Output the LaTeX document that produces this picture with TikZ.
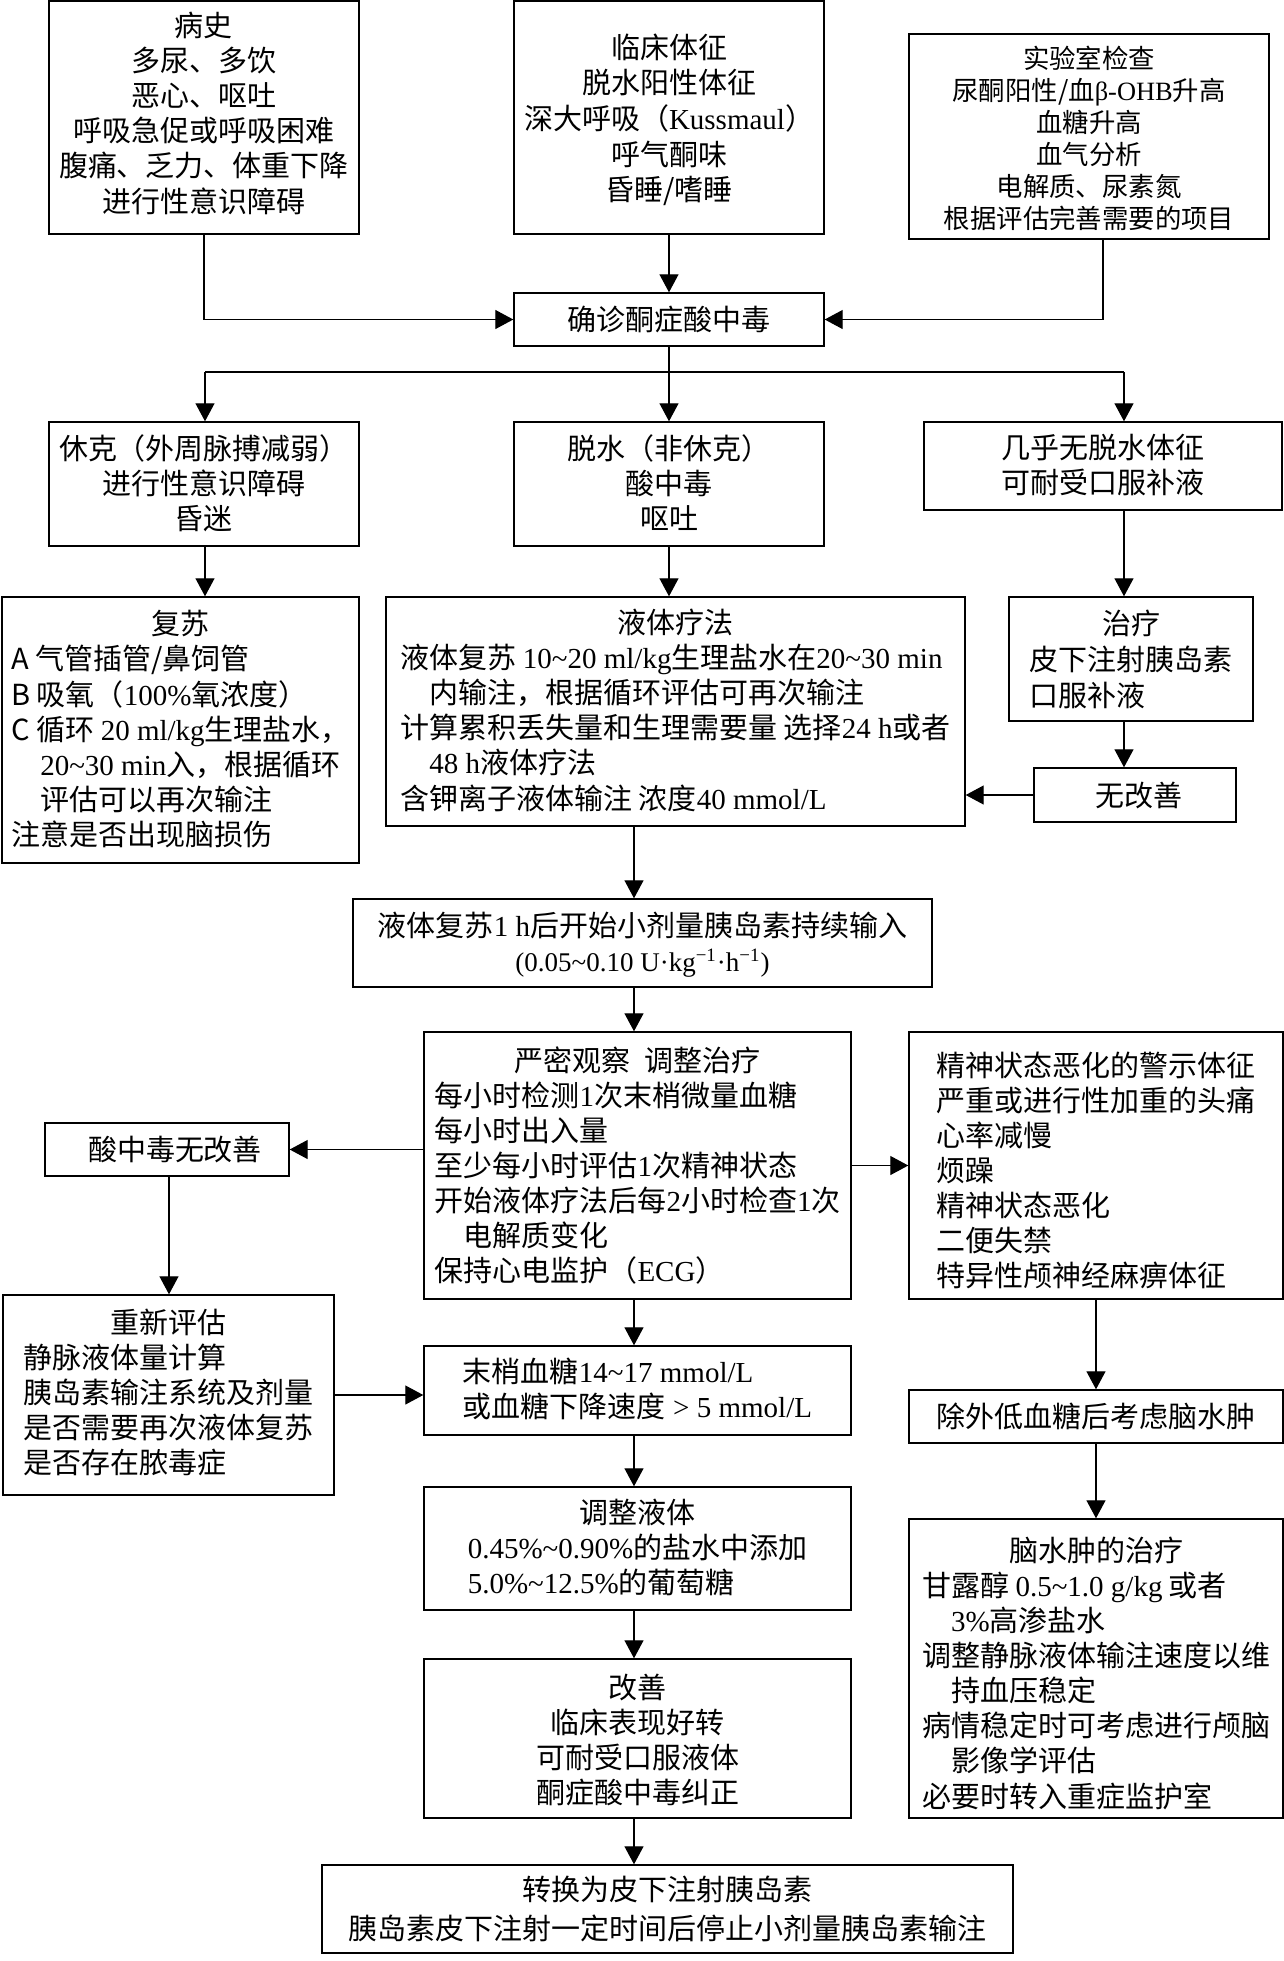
\documentclass[tikz,border=0pt]{standalone}
\usepackage{fontspec}
\setmainfont{Noto Sans CJK SC}
\newfontfamily\enfont{Liberation Serif}
\usetikzlibrary{arrows.meta,calc}
\newcommand\EN[1]{{\enfont #1}}
\newcommand\tld{\textasciitilde}
\newcommand\tbc[2][0pt]{\raisebox{-#1}[\height][\depth]{\begin{tabular}{@{}c@{}}#2\end{tabular}}}
\newcommand\tbl[2][0pt]{\raisebox{-#1}[\height][\depth]{\begin{tabular}{@{}l@{}}#2\end{tabular}}}
\newcommand\hd[1]{\multicolumn{1}{@{}c@{}}{#1}}
\newcommand\ind{\hspace*{1em}}
\begin{document}
\begin{tikzpicture}[x=0.5pt,y=-0.5pt,
  font=\fontsize{14.5pt}{17.5pt}\selectfont,
  box/.style={draw, line width=0.7pt, inner sep=0pt, rectangle, align=center},
  arr/.style={line width=0.6pt, -{Triangle[length=9pt,width=9.5pt]}},
  ln/.style={line width=0.6pt}]
\path[use as bounding box, fill=white] (0,0) rectangle (1284,1961);

% row 1
\node[box, minimum width=155pt, minimum height=116.5pt] (hist) at (204,117.5)
 {\tbc{病史\\多尿、多饮\\恶心、呕吐\\呼吸急促或呼吸困难\\腹痛、乏力、体重下降\\进行性意识障碍}};
\node[box, minimum width=155pt, minimum height=116.5pt] (clin) at (669,117.5)
 {\tbc[2.5pt]{临床体征\\[0.3pt]脱水阳性体征\\[0.3pt]深大呼吸（\EN{Kussmaul}）\\[0.3pt]呼气酮味\\[0.3pt]昏睡/嗜睡}};
\node[box, line width=1.3pt, minimum width=180pt, minimum height=102.5pt,
  font=\fontsize{13.2pt}{16pt}\selectfont] (lab) at (1089,136.5)
 {\tbc[3pt]{实验室检查\\尿酮阳性/血\EN{β-OHB}升高\\血糖升高\\血气分析\\电解质、尿素氮\\根据评估完善需要的项目}};
\node[box, minimum width=155pt, minimum height=26.5pt] (diag) at (669,319.5) {确诊酮症酸中毒};

% row 2
\node[box, minimum width=155pt, minimum height=62pt] (shock) at (204,484)
 {\tbc[1.5pt]{休克（外周脉搏减弱）\\进行性意识障碍\\昏迷}};
\node[box, minimum width=155pt, minimum height=62pt] (dehy) at (669,484)
 {\tbc[1.5pt]{脱水（非休克）\\酸中毒\\呕吐}};
\node[box, minimum width=179pt, minimum height=44pt] (nodehy) at (1103,466)
 {\tbc[1.5pt]{几乎无脱水体征\\可耐受口服补液}};

% row 3
\node[box, minimum width=178.5pt, minimum height=133pt] (resus) at (180.5,730)
 {\tbl[1.5pt]{\hd{复苏}\\A 气管插管/鼻饲管\\B 吸氧（\EN{100\%}氧浓度）\\C 循环 \EN{20 ml/kg}生理盐水，\\\ind\EN{20\tld 30 min}入，根据循环\\\ind 评估可以再次输注\\注意是否出现脑损伤}};
\node[box, minimum width=289.5pt, minimum height=114.5pt] (fluid) at (675.5,711.5)
 {\tbl[1.5pt]{\hd{液体疗法}\\液体复苏 \EN{10\tld 20 ml/kg}生理盐水在\EN{20\tld 30 min}\\\ind 内输注，根据循环评估可再次输注\\计算累积丢失量和生理需要量 选择\EN{24 h}或者\\\ind\EN{48 h}液体疗法\\含钾离子液体输注 浓度\EN{40 mmol/L}}};
\node[box, minimum width=122pt, minimum height=62pt] (treat) at (1131,659)
 {\tbl[2pt]{\hd{治疗}\\[0.5pt]皮下注射胰岛素\\[0.5pt]口服补液}};
\node[box, minimum width=101pt, minimum height=27pt] (noimp) at (1135,795) {\hspace*{4pt}无改善};

% insulin
\node[box, minimum width=289.5pt, minimum height=44pt] (insulin) at (642.5,943)
 {\tbc[2pt]{液体复苏\EN{1 h}后开始小剂量胰岛素持续输入\\{\fontsize{13.5pt}{17.5pt}\selectfont\EN{(0.05\tld 0.10 U·kg\textsuperscript{−1}·h\textsuperscript{−1})}}}};

% observation row
\node[box, minimum width=213.5pt, minimum height=133.5pt] (obs) at (637.5,1165.5)
 {\tbl[1.9pt]{\hd{严密观察\hspace{0.5em}调整治疗}\\每小时检测\EN{1}次末梢微量血糖\\每小时出入量\\至少每小时评估\EN{1}次精神状态\\开始液体疗法后每\EN{2}小时检查\EN{1}次\\\ind 电解质变化\\保持心电监护（\EN{ECG}）}};
\node[box, minimum width=122pt, minimum height=26.5pt] (acid) at (167,1149.5) {\hspace*{8pt}酸中毒无改善};
\node[box, minimum width=165.5pt, minimum height=100pt] (reeval) at (168.5,1395)
 {\tbl[0.5pt]{\hd{重新评估}\\静脉液体量计算\\胰岛素输注系统及剂量\\是否需要再次液体复苏\\是否存在脓毒症}};
\node[box, minimum width=187pt, minimum height=133.5pt] (warn) at (1096,1165.5)
 {\tbl[4.4pt]{精神状态恶化的警示体征\\严重或进行性加重的头痛\\心率减慢\\烦躁\\精神状态恶化\\二便失禁\\特异性颅神经麻痹体征}};

\node[box, minimum width=213.5pt, minimum height=44.5pt] (glu) at (637.5,1390.5)
 {\tbl[1pt]{末梢血糖\EN{14\tld 17 mmol/L}\\或血糖下降速度\EN{ > 5 mmol/L}}};
\node[box, minimum width=187pt, minimum height=26.5pt] (excl) at (1096,1416.5) {除外低血糖后考虑脑水肿};

\node[box, minimum width=213.5pt, minimum height=61.5pt] (adj) at (637.5,1548.5)
 {\tbl[1.5pt]{\hd{调整液体}\\\EN{0.45\%\tld 0.90\%}的盐水中添加\\\EN{5.0\%\tld 12.5\%}的葡萄糖}};
\node[box, minimum width=187pt, minimum height=149.5pt] (edema) at (1096,1668.5)
 {\tbl[4.4pt]{\hd{脑水肿的治疗}\\甘露醇 \EN{0.5\tld 1.0 g/kg} 或者\\\ind\EN{3\%}高渗盐水\\调整静脉液体输注速度以维\\\ind 持血压稳定\\病情稳定时可考虑进行颅脑\\\ind 影像学评估\\必要时转入重症监护室}};
\node[box, minimum width=213.5pt, minimum height=79.5pt] (impr) at (637.5,1738.5)
 {\tbc[2.5pt]{改善\\临床表现好转\\可耐受口服液体\\酮症酸中毒纠正}};
\node[box, minimum width=345.5pt, minimum height=44pt] (conv) at (667.5,1909)
 {\tbc[2pt]{转换为皮下注射胰岛素\\[2pt]胰岛素皮下注射一定时间后停止小剂量胰岛素输注}};

% coordinates
\coordinate (bL) at (205,372);
\coordinate (bM) at (669,372);
\coordinate (bR) at (1124,372);
\coordinate (mc) at (634,0);

% connectors
\draw[arr] (hist.south) |- (diag.west);
\draw[arr] (clin.south) -- (diag.north);
\draw[arr] ([xshift=7pt]lab.south) |- (diag.east);
\draw[ln] (diag.south) -- (bM);
\draw[ln] (bL) -- (bR);
\draw[arr] (bL) -- (bL |- shock.north);
\draw[arr] (bM) -- (dehy.north);
\draw[arr] (bR) -- (bR |- nodehy.north);
\draw[arr] (bL |- shock.south) -- (bL |- resus.north);
\draw[arr] (dehy.south) -- (dehy.south |- fluid.north);
\draw[arr] (bR |- nodehy.south) -- (bR |- treat.north);
\draw[arr] (bR |- treat.south) -- (bR |- noimp.north);
\draw[arr] (noimp.west) -- (noimp.west -| fluid.east);
\draw[arr] (mc |- fluid.south) -- (mc |- insulin.north);
\draw[arr] (mc |- insulin.south) -- (mc |- obs.north);
\draw[arr] (obs.west |- acid.east) -- (acid.east);
\draw[arr] ([xshift=1pt]acid.south) -- ([xshift=1pt]acid.south |- reeval.north);
\draw[arr] (reeval.east) -- (reeval.east -| glu.west);
\draw[arr] (obs.east) -- (warn.west);
\draw[arr] (warn.south) -- (excl.north);
\draw[arr] (excl.south) -- (edema.north);
\draw[arr] (mc |- obs.south) -- (mc |- glu.north);
\draw[arr] (mc |- glu.south) -- (mc |- adj.north);
\draw[arr] (mc |- adj.south) -- (mc |- impr.north);
\draw[arr] (mc |- impr.south) -- (mc |- conv.north);
\end{tikzpicture}
\end{document}
